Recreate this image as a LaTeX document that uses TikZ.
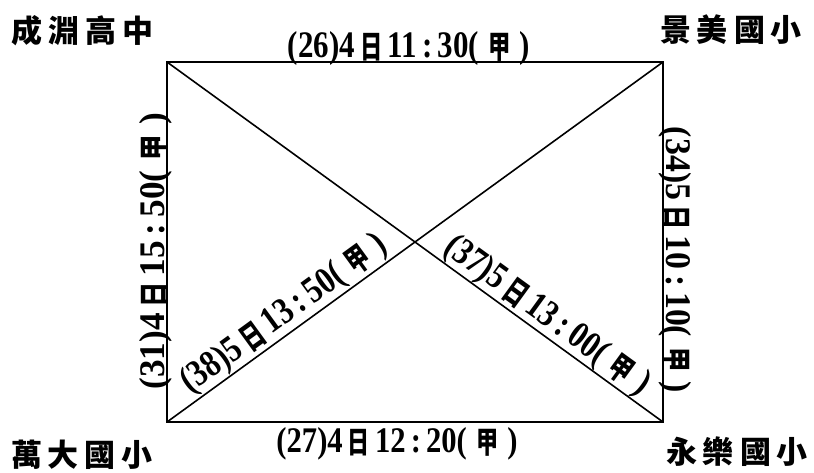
\documentclass[tikz,border=0pt]{standalone}
\usepackage{fontspec}
\usepackage{graphicx}
\setmainfont{Liberation Serif}
\newfontfamily\cjk{Noto Sans CJK TC}
\newcommand\cj[1]{\smash{\raisebox{-0.04em}{\scalebox{0.72}[0.84]{\cjk\bfseries #1}}}}
\newcommand\ri{\,\cj{日}\,}
\newcommand\jia{(\hspace{0.3em}\cj{甲}\hspace{0.3em})}
\newcommand\cln{\,:\,}
\newcommand\lbl[3]{\resizebox*{#1pt}{#2pt}{\raisebox{0pt}[\height][0pt]{\bfseries #3}}}
\begin{document}
\begin{tikzpicture}[x=1pt,y=-1pt,
  edge/.style={line width=1.6pt,black},
  lab/.style={inner sep=0pt,anchor=center},
  corner/.style={inner sep=0pt,anchor=center,font=\cjk\bfseries\fontsize{31}{31}\selectfont}]
\useasboundingbox (0,0) rectangle (814,472);
\fill[white] (0,0) rectangle (814,472);
\coordinate (TL) at (167,62);
\coordinate (TR) at (663,62);
\coordinate (BR) at (663,422);
\coordinate (BL) at (167,422);
\draw[edge] (TL) -- (TR) -- (BR) -- (BL) -- cycle;
\draw[edge] (TL) -- (BR);
\draw[edge] (TR) -- (BL);
% corner names
\node[corner] (n1) at (83,31) {成\hspace{6pt}淵\hspace{6pt}高\hspace{6pt}中};
\node[corner] (n2) at (731,30) {景\hspace{6pt}美\hspace{6pt}國\hspace{6pt}小};
\node[corner] (n3) at (82,455) {萬\hspace{6pt}大\hspace{6pt}國\hspace{6pt}小};
\node[corner] (n4) at (737,452) {永\hspace{6pt}樂\hspace{6pt}國\hspace{6pt}小};
% edge labels
\node[lab] (l26) at (409,44) {\lbl{242}{26}{(26)4\ri 11\cln 30\jia}};
\node[lab] (l27) at (397,440) {\lbl{241}{25}{(27)4\ri 12\cln 20\jia}};
\node[lab,rotate=90] (l31) at (152,251) {\lbl{277}{25}{(31)4\ri 15\cln 50\jia}};
\node[lab,rotate=-90] (l34) at (679,260) {\lbl{266}{25}{(34)5\ri 10\cln 10\jia}};
\node[lab,rotate=36] (l38) at (282,311) {\lbl{245}{26}{(38)5\ri 13\cln 50\jia}};
\node[lab,rotate=-36] (l37) at (549,313) {\lbl{245}{26}{(37)5\ri 13\cln 00\jia}};
\end{tikzpicture}
\end{document}
